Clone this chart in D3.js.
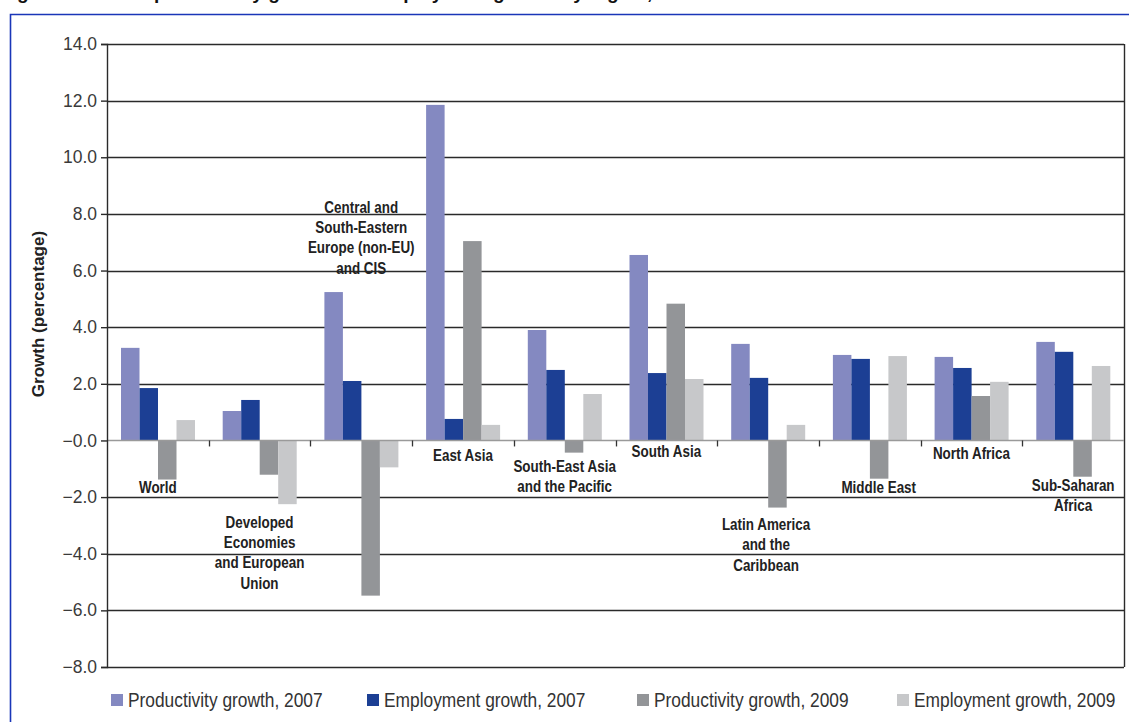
<!DOCTYPE html>
<html><head><meta charset="utf-8">
<script src="https://cdn.jsdelivr.net/npm/d3@7"></script>
<style>
html,body{margin:0;padding:0;background:#fff;overflow:hidden;}
svg{display:block;}
</style></head>
<body>
<svg id="chart" width="1129" height="722"></svg>
<script>
const categories = ["World","Developed Economies and European Union","Central and South-Eastern Europe (non-EU) and CIS","East Asia","South-East Asia and the Pacific","South Asia","Latin America and the Caribbean","Middle East","North Africa","Sub-Saharan Africa"];
const labelLines = [["World"],["Developed","Economies","and European","Union"],["Central and","South-Eastern","Europe (non-EU)","and CIS"],["East Asia"],["South-East Asia","and the Pacific"],["South Asia"],["Latin America","and the","Caribbean"],["Middle East"],["North Africa"],["Sub-Saharan","Africa"]];
const seriesNames = ["Productivity growth, 2007","Employment growth, 2007","Productivity growth, 2009","Employment growth, 2009"];
const prod2007 = [3.27,1.04,5.24,11.85,3.90,6.55,3.41,3.02,2.95,3.48];
const emp2007  = [1.85,1.43,2.10,0.76,2.49,2.38,2.21,2.88,2.56,3.13];
const prod2009 = [-1.38,-1.21,-5.48,7.04,-0.43,4.83,-2.37,-1.35,1.57,-1.28];
const emp2009  = [0.72,-2.25,-0.95,0.55,1.64,2.17,0.55,2.98,2.07,2.63];
const yTicks = [14,12,10,8,6,4,2,0,-2,-4,-6,-8];
const yTickLabels = ["14.0","12.0","10.0","8.0","6.0","4.0","2.0","\u22120.0","\u22122.0","\u22124.0","\u22126.0","\u22128.0"];
const yTitle = "Growth (percentage)";
const title = "Figure 2. Labour productivity growth and employment growth by region, 2007 and 2009";

// layout (not data): label first-baseline in value units, and x nudge
const labelBaseY = [-1.85,-3.08,8.04,-0.72,-1.12,-0.6,-3.16,-1.85,-0.67,-1.78];
const labelDx = [0,0,0,0,0,0,-2,9,0,0];

const colors = ["#8489c1","#1c3f94","#939598","#c7c8ca"];
const series = [prod2007, emp2007, prod2009, emp2009];

const svg = d3.select("#chart");
const L = 107, R = 1124, T = 44, B = 667;

const x0 = d3.scaleBand().domain(categories).range([L, R]).padding(0);
const x1 = d3.scaleBand().domain(d3.range(4)).range([14, 88]).padding(0);
const y = d3.scaleLinear().domain([-8, 14]).range([B, T]);

// title (cut off at top, as in the source image)
svg.append("text").attr("x", 0).attr("y", -1)
  .attr("font-family","Liberation Sans, Arial, sans-serif").attr("font-weight","bold")
  .attr("font-size", 19).attr("fill","#111").text(title);

// frame
svg.append("path").attr("d", `M10.5,722 L10.5,14.5 L1129,14.5`)
  .attr("fill","none").attr("stroke","#1a36b8").attr("stroke-width",1.6);

// gridlines
svg.append("g").selectAll("line").data(yTicks.filter(d => d !== 0)).join("line")
  .attr("x1", L).attr("x2", R).attr("y1", d => Math.round(y(d))+0.5).attr("y2", d => Math.round(y(d))+0.5)
  .attr("stroke", "#2a2a2a").attr("stroke-width", 1.4);

// right border
svg.append("line").attr("x1", R+0.5).attr("x2", R+0.5).attr("y1", y(14)).attr("y2", y(-8))
  .attr("stroke","#2a2a2a").attr("stroke-width",1.4);

// bars
const g = svg.append("g");
categories.forEach((c, i) => {
  series.forEach((s, k) => {
    const v = s[i];
    g.append("rect")
      .attr("x", x0(c) + x1(k))
      .attr("width", x1.bandwidth())
      .attr("y", y(Math.max(0, v)))
      .attr("height", Math.abs(y(v) - y(0)))
      .attr("fill", colors[k]);
  });
});

// zero line
svg.append("line").attr("x1", L).attr("x2", R).attr("y1", y(0)).attr("y2", y(0))
  .attr("stroke","#9a9a9a").attr("stroke-width",1.4);

// category boundary ticks
svg.append("g").selectAll("line").data(categories.slice(1)).join("line")
  .attr("x1", d => Math.round(x0(d))+0.5).attr("x2", d => Math.round(x0(d))+0.5)
  .attr("y1", y(0)).attr("y2", y(0)+6)
  .attr("stroke","#333").attr("stroke-width",1.3);

// y axis
const yAxis = d3.axisLeft(y).tickValues(yTicks).tickSize(6).tickPadding(4)
  .tickFormat((d, i) => yTickLabels[i]);
const ya = svg.append("g").attr("transform", `translate(${L},0)`).call(yAxis);
ya.select(".domain").attr("stroke","#2a2a2a").attr("stroke-width",1.4);
ya.selectAll(".tick line").attr("stroke","#2a2a2a").attr("stroke-width",1.4);
ya.selectAll(".tick text").attr("font-family","Liberation Sans, Arial, sans-serif")
  .attr("font-size",17.5).attr("fill","#3a3a3a");

// y title
svg.append("text").attr("transform","translate(44,314) rotate(-90)")
  .attr("text-anchor","middle").attr("font-family","Liberation Sans, Arial, sans-serif")
  .attr("font-weight","bold").attr("font-size",17).attr("fill","#222").text(yTitle);

// category labels (condensed bold)
categories.forEach((c, i) => {
  const cx = x0(c) + x0.bandwidth()/2 + labelDx[i];
  const t = svg.append("text").attr("text-anchor","middle")
    .attr("transform", `translate(${cx},0) scale(0.84,1)`)
    .attr("font-family","Liberation Sans, Arial, sans-serif")
    .attr("font-weight","bold").attr("font-size",16).attr("fill","#222");
  labelLines[i].forEach((ln, j) => {
    t.append("tspan").attr("x", 0)
      .attr("y", y(labelBaseY[i]) + j*20.3).text(ln);
  });
});

// legend
const legX = [111, 367, 637, 897];
const lg = svg.append("g");
seriesNames.forEach((n, k) => {
  lg.append("rect").attr("x", legX[k]).attr("y", 694).attr("width", 12).attr("height", 12).attr("fill", colors[k]);
  lg.append("text").attr("transform", `translate(${legX[k] + 17},707) scale(0.89,1)`)
    .attr("font-family","Liberation Sans, Arial, sans-serif")
    .attr("font-size",19.5).attr("fill","#333").text(n);
});
</script>
</body></html>
